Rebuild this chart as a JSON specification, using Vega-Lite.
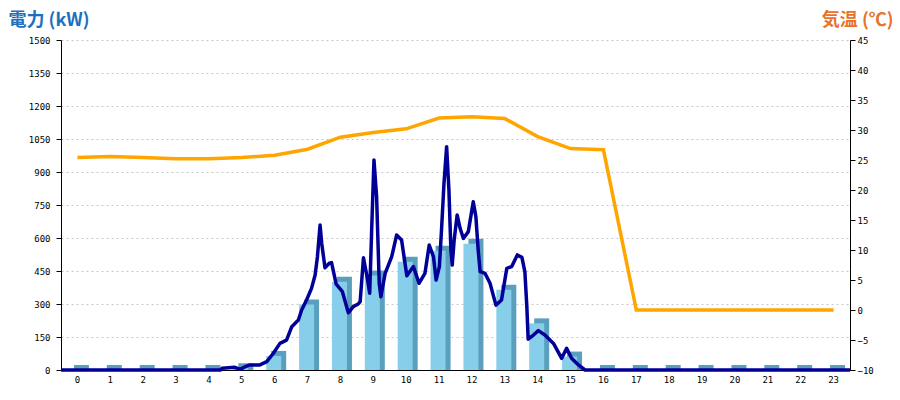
{
  "$schema": "https://vega.github.io/schema/vega-lite/v6.json",
  "width": 789,
  "height": 330,
  "autosize": {"type": "none"},
  "padding": {"left": 61, "top": 40, "right": 50, "bottom": 30},
  "background": "white",
  "config": {
    "view": {"stroke": null},
    "axis": {"labelFont": "DejaVu Sans Mono", "labelFontSize": 9, "labelColor": "#000000", "domainColor": "#000000", "tickColor": "#000000"}
  },
  "datasets": {
    "hourly": [
      {"hour": 0, "power": 0, "temp": 25.4},
      {"hour": 1, "power": 0, "temp": 25.6},
      {"hour": 2, "power": 0, "temp": 25.4},
      {"hour": 3, "power": 0, "temp": 25.2},
      {"hour": 4, "power": 0, "temp": 25.2},
      {"hour": 5, "power": 8, "temp": 25.4},
      {"hour": 6, "power": 64, "temp": 25.8},
      {"hour": 7, "power": 298, "temp": 26.8},
      {"hour": 8, "power": 401, "temp": 28.8},
      {"hour": 9, "power": 430, "temp": 29.6},
      {"hour": 10, "power": 492, "temp": 30.2},
      {"hour": 11, "power": 542, "temp": 32.0},
      {"hour": 12, "power": 574, "temp": 32.2},
      {"hour": 13, "power": 365, "temp": 31.9},
      {"hour": 14, "power": 212, "temp": 28.9},
      {"hour": 15, "power": 61, "temp": 26.9},
      {"hour": 16, "power": 0, "temp": 26.7},
      {"hour": 17, "power": 0, "temp": 0},
      {"hour": 18, "power": 0, "temp": 0},
      {"hour": 19, "power": 0, "temp": 0},
      {"hour": 20, "power": 0, "temp": 0},
      {"hour": 21, "power": 0, "temp": 0},
      {"hour": 22, "power": 0, "temp": 0},
      {"hour": 23, "power": 0, "temp": 0}
    ],
    "detail": [
      {"t": 0, "kw": 0}, {"t": 4.85, "kw": 0}, {"t": 4.9, "kw": 8}, {"t": 5.29, "kw": 12},
      {"t": 5.45, "kw": 3}, {"t": 5.6, "kw": 15}, {"t": 5.75, "kw": 23}, {"t": 6.05, "kw": 23},
      {"t": 6.26, "kw": 38}, {"t": 6.46, "kw": 76}, {"t": 6.66, "kw": 121}, {"t": 6.86, "kw": 136},
      {"t": 7.02, "kw": 197}, {"t": 7.22, "kw": 227}, {"t": 7.32, "kw": 273}, {"t": 7.47, "kw": 318},
      {"t": 7.62, "kw": 371}, {"t": 7.73, "kw": 432}, {"t": 7.8, "kw": 515}, {"t": 7.88, "kw": 659},
      {"t": 7.93, "kw": 576}, {"t": 8.03, "kw": 465}, {"t": 8.16, "kw": 485}, {"t": 8.23, "kw": 488},
      {"t": 8.37, "kw": 390}, {"t": 8.56, "kw": 356}, {"t": 8.74, "kw": 260}, {"t": 8.89, "kw": 288},
      {"t": 9.04, "kw": 300}, {"t": 9.1, "kw": 311}, {"t": 9.2, "kw": 510}, {"t": 9.3, "kw": 432},
      {"t": 9.39, "kw": 349}, {"t": 9.45, "kw": 636}, {"t": 9.52, "kw": 955}, {"t": 9.6, "kw": 788},
      {"t": 9.68, "kw": 394}, {"t": 9.73, "kw": 333}, {"t": 9.86, "kw": 439}, {"t": 10.06, "kw": 515},
      {"t": 10.21, "kw": 614}, {"t": 10.36, "kw": 591}, {"t": 10.52, "kw": 428}, {"t": 10.72, "kw": 470},
      {"t": 10.89, "kw": 394}, {"t": 11.07, "kw": 439}, {"t": 11.2, "kw": 568}, {"t": 11.33, "kw": 515},
      {"t": 11.41, "kw": 409}, {"t": 11.51, "kw": 470}, {"t": 11.58, "kw": 652}, {"t": 11.65, "kw": 848},
      {"t": 11.73, "kw": 1015}, {"t": 11.8, "kw": 818}, {"t": 11.86, "kw": 545}, {"t": 11.9, "kw": 477},
      {"t": 11.96, "kw": 591}, {"t": 12.05, "kw": 705}, {"t": 12.14, "kw": 644}, {"t": 12.24, "kw": 598},
      {"t": 12.39, "kw": 629}, {"t": 12.54, "kw": 765}, {"t": 12.62, "kw": 697}, {"t": 12.69, "kw": 545},
      {"t": 12.75, "kw": 447}, {"t": 12.9, "kw": 439}, {"t": 13.05, "kw": 394}, {"t": 13.23, "kw": 295},
      {"t": 13.4, "kw": 318}, {"t": 13.56, "kw": 462}, {"t": 13.71, "kw": 470}, {"t": 13.88, "kw": 523},
      {"t": 14.02, "kw": 512}, {"t": 14.11, "kw": 447}, {"t": 14.17, "kw": 288}, {"t": 14.21, "kw": 140},
      {"t": 14.37, "kw": 159}, {"t": 14.52, "kw": 179}, {"t": 14.72, "kw": 159}, {"t": 14.98, "kw": 121},
      {"t": 15.23, "kw": 53}, {"t": 15.38, "kw": 99}, {"t": 15.53, "kw": 53}, {"t": 15.74, "kw": 23},
      {"t": 15.94, "kw": 0}, {"t": 24, "kw": 0}
    ]
  },
  "layer": [
    {
      "data": {"name": "hourly"},
      "mark": {"type": "bar", "color": "#5aa0be", "size": 15, "xOffset": 4, "yOffset": -5, "y2Offset": 0.01},
      "encoding": {
        "x": {"field": "hour", "type": "ordinal", "sort": null,
              "axis": {"title": null, "labelAngle": 0, "ticks": false, "labelPadding": 5, "domainColor": "#000000"}},
        "y": {"field": "power", "type": "quantitative",
              "scale": {"domain": [0, 1500], "nice": false},
              "axis": {"orient": "left", "values": [0,150,300,450,600,750,900,1050,1200,1350,1500], "format": "d",
                       "tickSize": 5, "labelPadding": 6, "grid": true, "gridColor": "#c8c8c8", "gridDash": [2, 3],
                       "title": "電力 (kW)", "titleAngle": 0, "titleX": -53, "titleY": -15, "titleAlign": "left",
                       "titleBaseline": "alphabetic", "titleFont": "Noto Sans CJK JP", "titleFontSize": 18,
                       "titleFontWeight": "bold", "titleColor": "#1b70c0"}},
        "y2": {"datum": 0}
      }
    },
    {
      "data": {"name": "hourly"},
      "mark": {"type": "bar", "color": "#87ceeb", "size": 15, "xOffset": -1},
      "encoding": {
        "x": {"field": "hour", "type": "ordinal", "sort": null, "axis": null},
        "y": {"field": "power", "type": "quantitative", "scale": {"domain": [0, 1500], "nice": false}, "axis": null}
      }
    },
    {
      "mark": {"type": "rule", "color": "#000000", "strokeWidth": 1},
      "encoding": {
        "y": {"datum": 0, "type": "quantitative", "scale": {"domain": [-10, 45], "nice": false}, "axis": null}
      }
    },
    {
      "data": {"name": "hourly"},
      "mark": {"type": "line", "color": "#ffa500", "strokeWidth": 3.5},
      "encoding": {
        "x": {"field": "hour", "type": "ordinal", "sort": null, "axis": null},
        "y": {"field": "temp", "type": "quantitative",
              "scale": {"domain": [-10, 45], "nice": false},
              "axis": {"orient": "right", "values": [-10,-5,0,5,10,15,20,25,30,35,40,45],
                       "tickSize": 5, "labelPadding": 2, "grid": false,
                       "title": "気温 (℃)", "titleAngle": 0, "titleX": 43, "titleY": -15, "titleAlign": "right",
                       "titleBaseline": "alphabetic", "titleFont": "Noto Sans CJK JP", "titleFontSize": 18,
                       "titleFontWeight": "bold", "titleColor": "#e8732a"}}
      }
    },
    {
      "data": {"name": "detail"},
      "mark": {"type": "line", "color": "#000099", "strokeWidth": 3.5, "strokeJoin": "round"},
      "encoding": {
        "x": {"field": "t", "type": "quantitative", "scale": {"domain": [0, 24], "nice": false}, "axis": null},
        "y": {"field": "kw", "type": "quantitative", "scale": {"domain": [0, 1500], "nice": false}, "axis": null}
      }
    }
  ],
  "resolve": {"scale": {"x": "independent", "y": "independent"}}
}
